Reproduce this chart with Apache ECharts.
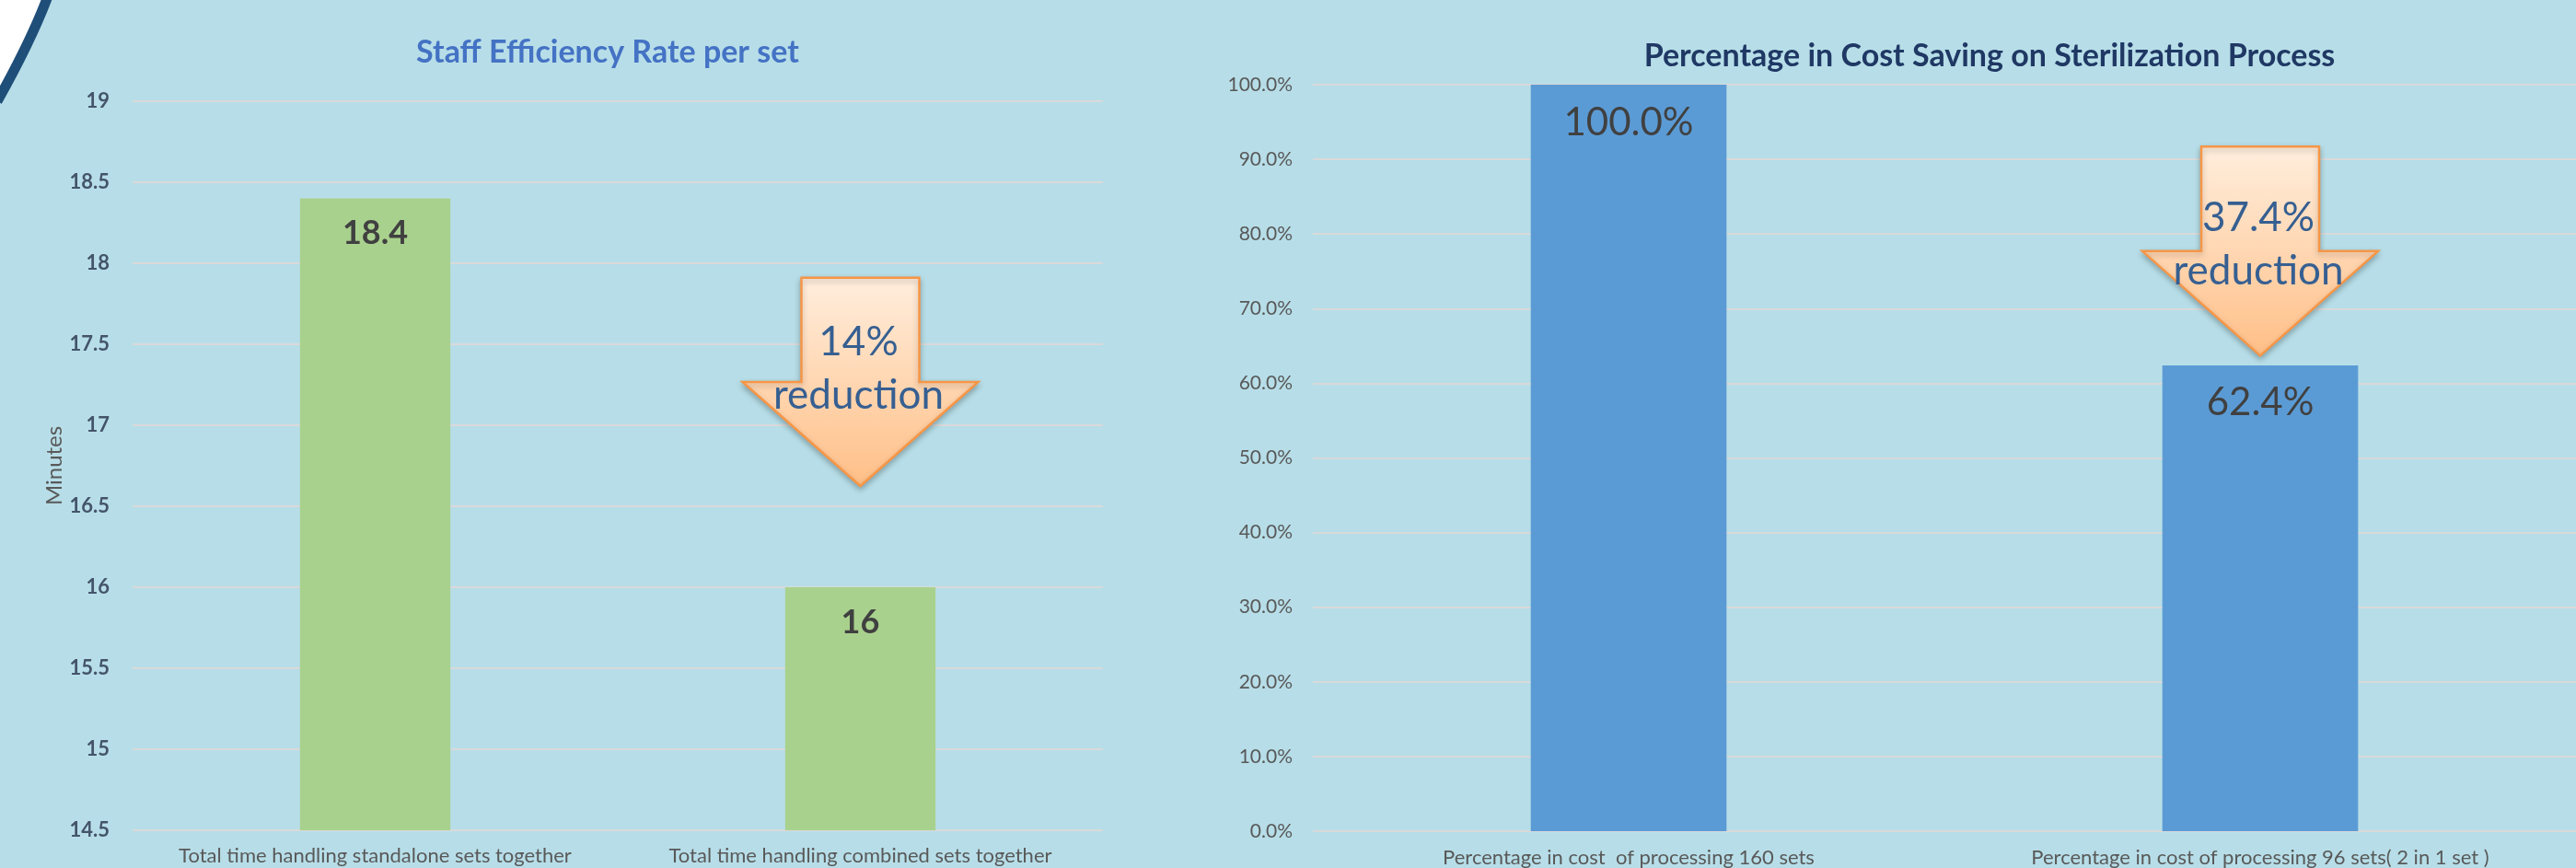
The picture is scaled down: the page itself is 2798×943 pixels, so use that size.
<!DOCTYPE html>
<html>
<head>
<meta charset="utf-8">
<script src="https://cdn.jsdelivr.net/npm/echarts@6/dist/echarts.min.js"></script>
<style>
  html, body { margin: 0; padding: 0; background: #b7dee8; }
  #chart { width: 2798px; height: 943px; }
</style>
</head>
<body>
<div id="chart"></div>
<script>
// left chart: staff efficiency
const leftTitle = 'Staff Efficiency Rate per set'
const leftCategories = ['Total time handling standalone sets together', 'Total time handling combined sets together']
const leftValues = [18.4, 16]
const leftMin = 14.5
const leftMax = 19
const leftStep = 0.5

// right chart: cost saving (percent)
const rightTitle = 'Percentage in Cost Saving on Sterilization Process'
const rightCategories = ['Percentage in cost  of processing 160 sets', 'Percentage in cost of processing 96 sets( 2 in 1 set )']
const rightValues = [100, 62.4]
const rightMin = 0
const rightMax = 100
const rightStep = 10

// reduction arrows, one per chart, placed on the second category (axis units)
const arrowLabels = ['14%\nreduction', '37.4%\nreduction']
const arrowTop = [17.91, 91.7]
const arrowTip = [16.625, 63.7]

const font = 'Lato, "Open Sans", sans-serif'
const gridLine = { lineStyle: { color: '#d9d9d9', width: 2 } }

const chart = echarts.init(document.getElementById('chart'))

chart.setOption({
  backgroundColor: '#b7dee8',
  animation: false,
  title: [
    {
      text: leftTitle, left: 655, top: 35, textAlign: 'center',
      textStyle: { fontFamily: font, fontSize: 34, fontWeight: 'bold', color: '#4472c4' }
    },
    {
      text: rightTitle, left: 2156, top: 39, textAlign: 'center',
      textStyle: { fontFamily: font, fontSize: 34, fontWeight: 'bold', color: '#1f3864' }
    }
  ],
  grid: [
    { left: 144, top: 110, width: 1054, height: 792 },
    { left: 1426, top: 92, width: 1426, height: 812 }
  ],
  xAxis: [
    {
      type: 'category', gridIndex: 0, data: leftCategories,
      axisLine: { show: false }, axisTick: { show: false },
      axisLabel: { margin: 17, fontFamily: font, fontSize: 22, color: '#595959', interval: 0 }
    },
    {
      type: 'category', gridIndex: 1, data: rightCategories,
      axisLine: { show: false }, axisTick: { show: false },
      axisLabel: { margin: 18, fontFamily: font, fontSize: 22, color: '#595959', interval: 0 }
    }
  ],
  yAxis: [
    {
      type: 'value', gridIndex: 0, min: leftMin, max: leftMax, interval: leftStep,
      name: 'Minutes', nameLocation: 'middle', nameGap: 66,
      nameTextStyle: { fontFamily: font, fontSize: 24, color: '#595959' },
      axisLine: { show: false }, axisTick: { show: false },
      splitLine: gridLine,
      axisLabel: { margin: 25, fontFamily: font, fontSize: 22, fontWeight: 'bold', color: '#44546a' }
    },
    {
      type: 'value', gridIndex: 1, min: rightMin, max: rightMax, interval: rightStep,
      axisLine: { show: false }, axisTick: { show: false },
      splitLine: gridLine,
      axisLabel: {
        margin: 22, fontFamily: font, fontSize: 21, color: '#595959',
        formatter: v => v.toFixed(1) + '%'
      }
    }
  ],
  series: [
    {
      type: 'bar', xAxisIndex: 0, yAxisIndex: 0, data: leftValues, barWidth: '31%',
      itemStyle: { color: '#a9d18e' },
      label: {
        show: true, position: 'insideTop', distance: 20,
        fontFamily: font, fontSize: 36, fontWeight: 'bold', color: '#404040'
      }
    },
    {
      type: 'bar', xAxisIndex: 1, yAxisIndex: 1, data: rightValues, barWidth: '31%',
      itemStyle: { color: '#5b9bd5' },
      label: {
        show: true, position: 'insideTop', distance: 20,
        fontFamily: font, fontSize: 42, color: '#404040',
        formatter: p => p.value.toFixed(1) + '%'
      }
    }
  ]
})

// arrows drawn over the bars, anchored through the axes
function arrow(i) {
  const finder = { xAxisIndex: i, yAxisIndex: i }
  const [cx, y0] = chart.convertToPixel(finder, [1, arrowTop[i]])
  const y1 = chart.convertToPixel(finder, [1, arrowTip[i]])[1]
  const base = y0 + (y1 - y0) / 2
  const textGap = i === 0 ? 99 : 106
  return [
    {
      type: 'polygon', z: 100,
      shape: {
        points: [
          [cx - 64, y0], [cx + 64, y0], [cx + 64, base], [cx + 128, base],
          [cx, y1], [cx - 128, base], [cx - 64, base]
        ]
      },
      style: {
        fill: new echarts.graphic.LinearGradient(0, 0, 0, 1, [
          { offset: 0, color: '#ffeedd' },
          { offset: 1, color: '#ffbf87' }
        ]),
        stroke: '#f79646', lineWidth: 2.5,
        shadowBlur: 6, shadowColor: 'rgba(0,0,0,0.25)', shadowOffsetY: 3
      }
    },
    {
      type: 'text', z: 101, x: cx - 2, y: y0 + textGap,
      style: {
        text: arrowLabels[i], font: '44px ' + font, fill: '#365f91',
        align: 'center', verticalAlign: 'middle', lineHeight: 58
      }
    }
  ]
}

// slide border arc in the top-left corner (quadratic curve)
const arc = { x1: 52, y1: -4, cpx1: 33, cpy1: 46, x2: -3, y2: 110 }
const arcFill = [[-4, -4]]
for (let k = 0; k <= 20; k++) {
  const t = k / 20
  const a = (1 - t) * (1 - t), b = 2 * t * (1 - t), c = t * t
  arcFill.push([a * arc.x1 + b * arc.cpx1 + c * arc.x2, a * arc.y1 + b * arc.cpy1 + c * arc.y2])
}

chart.setOption({
  graphic: [
    { type: 'polygon', z: 90, shape: { points: arcFill }, style: { fill: '#ffffff' } },
    { type: 'bezierCurve', z: 91, shape: arc, style: { fill: null, stroke: '#1f4e79', lineWidth: 11 } },
    ...arrow(0),
    ...arrow(1)
  ]
})
</script>
</body>
</html>
